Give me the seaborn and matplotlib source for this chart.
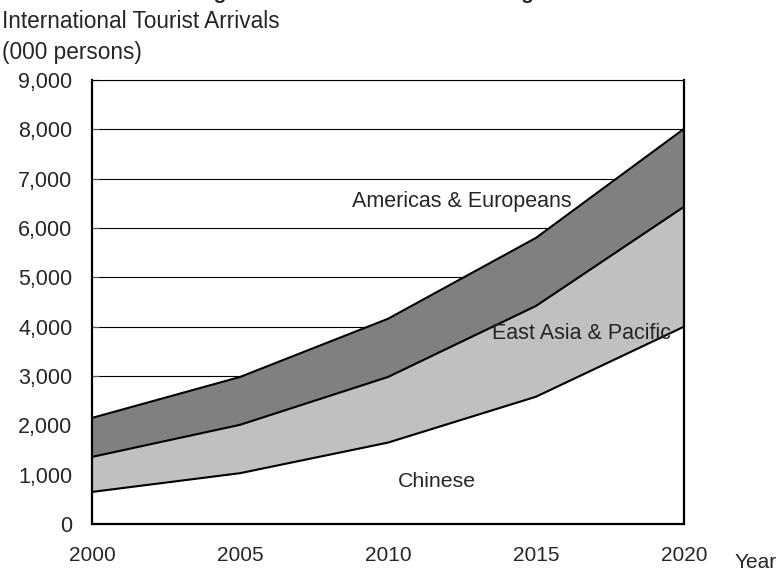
import matplotlib
matplotlib.use("Agg")
import matplotlib.pyplot as plt
import seaborn as sns
import pandas as pd
import numpy as np
from matplotlib.ticker import FuncFormatter

years = [2000, 2005, 2010, 2015, 2020]
chinese = [650, 1030, 1650, 2580, 4000]
east_asia = [710, 980, 1330, 1840, 2430]
americas_europe = [790, 970, 1180, 1380, 1580]

sns.set_style("white")
plt.rcParams['font.family'] = ['Liberation Sans', 'DejaVu Sans']

lvl1 = np.array(chinese)
lvl2 = lvl1 + np.array(east_asia)
lvl3 = lvl2 + np.array(americas_europe)
df = pd.DataFrame({"Year": years * 3,
                   "value": list(lvl1) + list(lvl2) + list(lvl3),
                   "series": ["Chinese"] * 5 + ["East Asia & Pacific"] * 5 + ["Americas & Europeans"] * 5})

fig = plt.figure(figsize=(7.78, 5.71), dpi=100)
ax = fig.add_axes([92 / 778, 1 - 524 / 571, (684 - 92) / 778, (524 - 80) / 571])

ax.fill_between(years, lvl2, lvl3, color="#808080", lw=0, zorder=2)
ax.fill_between(years, lvl1, lvl2, color="#c0c0c0", lw=0, zorder=2)
ax.fill_between(years, 0, lvl1, color="white", lw=0, zorder=2)
sns.lineplot(data=df, x="Year", y="value", units="series", estimator=None,
             color="black", lw=1.5, ax=ax, zorder=3, legend=False)

ax.set_xlim(2000, 2020)
ax.set_ylim(0, 9000)
ax.set_xticks(years)
ax.set_yticks(range(0, 9001, 1000))
ax.yaxis.set_major_formatter(FuncFormatter(lambda v, p: f"{int(v):,}"))
ax.grid(axis="y", color="black", lw=0.8, zorder=1)
ax.set_axisbelow(True)
ax.set_xlabel("")
ax.set_ylabel("")
for s in ax.spines.values():
    s.set_color("black")
    s.set_zorder(5)
ax.spines["left"].set_linewidth(1.6)
ax.spines["bottom"].set_linewidth(1.6)
ax.spines["right"].set_linewidth(1.6)
ax.spines["top"].set_linewidth(0.8)
ax.tick_params(axis="y", direction="in", length=5, width=0.8, color="#555555", labelsize=15.5, pad=14, left=True)
ax.tick_params(axis="x", direction="in", length=5, width=0.8, color="#888888", labelsize=15, pad=16, bottom=True)

ax.text(2012.5, 6530, "Americas & Europeans", ha="center", va="center", fontsize=15.5, zorder=6)
ax.text(2016.55, 3870, "East Asia & Pacific", ha="center", va="center", fontsize=15.5, zorder=6)
ax.text(2011.66, 870, "Chinese", ha="center", va="center", fontsize=15.3, zorder=6)

fig.text(2 / 778, 1 - 22 / 571, "International Tourist Arrivals", ha="left", va="center", fontsize=16.3)
fig.text(2 / 778, 1 - 52 / 571, "(000 persons)", ha="left", va="center", fontsize=16.3)
fig.text(735 / 778, 1 - 563 / 571, "Year", ha="left", va="center", fontsize=15)
fig.text(380 / 778, 1 + 1 / 571, "Figure 8: Total Tourist Arrival Targets", ha="center", va="baseline",
         fontsize=15, fontweight="bold")

fig.savefig("out.png", dpi=100)
